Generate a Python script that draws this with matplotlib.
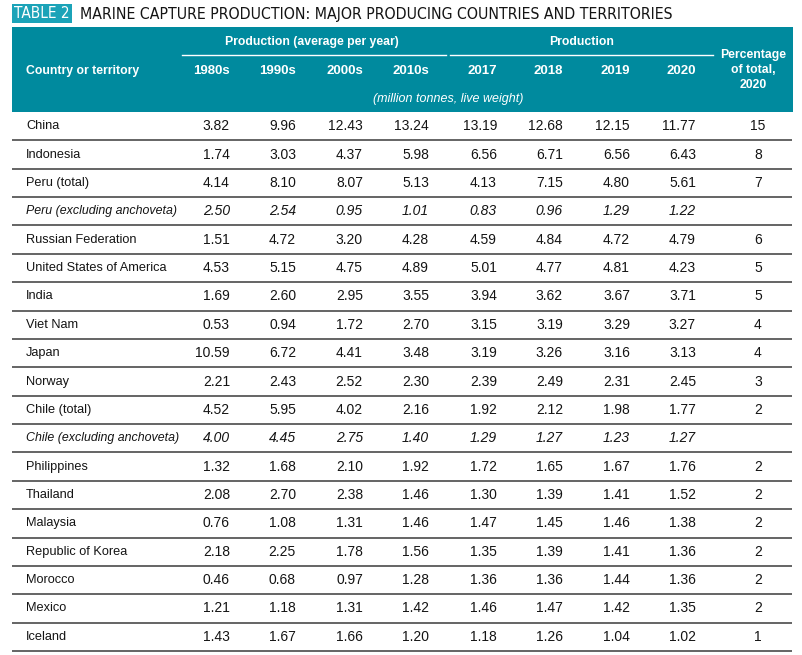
import matplotlib
matplotlib.use('Agg')
import matplotlib.pyplot as plt
from matplotlib.patches import Rectangle
from matplotlib import font_manager
from matplotlib.font_manager import FontProperties

countries = [
    'China', 'Indonesia', 'Peru (total)', 'Peru (excluding anchoveta)',
    'Russian Federation', 'United States of America', 'India', 'Viet Nam',
    'Japan', 'Norway', 'Chile (total)', 'Chile (excluding anchoveta)',
    'Philippines', 'Thailand', 'Malaysia', 'Republic of Korea', 'Morocco',
    'Mexico', 'Iceland',
]
italic_rows = ['Peru (excluding anchoveta)', 'Chile (excluding anchoveta)']

col_labels = ['1980s', '1990s', '2000s', '2010s', '2017', '2018', '2019', '2020']

v1980s = [3.82, 1.74, 4.14, 2.50, 1.51, 4.53, 1.69, 0.53, 10.59, 2.21, 4.52, 4.00,
          1.32, 2.08, 0.76, 2.18, 0.46, 1.21, 1.43]
v1990s = [9.96, 3.03, 8.10, 2.54, 4.72, 5.15, 2.60, 0.94, 6.72, 2.43, 5.95, 4.45,
          1.68, 2.70, 1.08, 2.25, 0.68, 1.18, 1.67]
v2000s = [12.43, 4.37, 8.07, 0.95, 3.20, 4.75, 2.95, 1.72, 4.41, 2.52, 4.02, 2.75,
          2.10, 2.38, 1.31, 1.78, 0.97, 1.31, 1.66]
v2010s = [13.24, 5.98, 5.13, 1.01, 4.28, 4.89, 3.55, 2.70, 3.48, 2.30, 2.16, 1.40,
          1.92, 1.46, 1.46, 1.56, 1.28, 1.42, 1.20]
v2017 = [13.19, 6.56, 4.13, 0.83, 4.59, 5.01, 3.94, 3.15, 3.19, 2.39, 1.92, 1.29,
         1.72, 1.30, 1.47, 1.35, 1.36, 1.46, 1.18]
v2018 = [12.68, 6.71, 7.15, 0.96, 4.84, 4.77, 3.62, 3.19, 3.26, 2.49, 2.12, 1.27,
         1.65, 1.39, 1.45, 1.39, 1.36, 1.47, 1.26]
v2019 = [12.15, 6.56, 4.80, 1.29, 4.72, 4.81, 3.67, 3.29, 3.16, 2.31, 1.98, 1.23,
         1.67, 1.41, 1.46, 1.41, 1.44, 1.42, 1.04]
v2020 = [11.77, 6.43, 5.61, 1.22, 4.79, 4.23, 3.71, 3.27, 3.13, 2.45, 1.77, 1.27,
         1.76, 1.52, 1.38, 1.36, 1.36, 1.35, 1.02]
pct_2020 = [15, 8, 7, None, 6, 5, 5, 4, 4, 3, 2, None, 2, 2, 2, 2, 2, 2, 1]

columns = [v1980s, v1990s, v2000s, v2010s, v2017, v2018, v2019, v2020]

TEAL = '#008a9e'
TEAL_LIGHT = '#1ba3b8'
INK = '#141414'

# look for any condensed / narrow face for the title
cond = None
for f in font_manager.fontManager.ttflist:
    fn = f.fname.lower()
    if ('condensed' in fn or 'narrow' in fn) and 'bold' not in fn \
            and 'oblique' not in fn and 'italic' not in fn:
        cond = f.fname
        break
title_fp = FontProperties(fname=cond) if cond else FontProperties(family='Liberation Sans')
body = 'Liberation Sans'

W, H = 803, 655
fig = plt.figure(figsize=(W / 100, H / 100), dpi=100)
ax = fig.add_axes([0, 0, 1, 1])
ax.set_xlim(0, W)
ax.set_ylim(H, 0)
ax.axis('off')

left, right = 12, 793
head_top, head_bot = 27, 112
table_bot = 651
row_h = (table_bot - head_bot) / len(countries)
col_right = [230, 296, 363, 429, 497, 563, 630, 696]
pct_x = 758

# title
ax.add_patch(Rectangle((12, 4), 60, 19, color=TEAL_LIGHT, lw=0))
t_tag = ax.text(42, 14, 'TABLE 2', color='white', fontproperties=title_fp,
                fontsize=14, ha='center', va='center')
t_main = ax.text(80, 14, 'MARINE CAPTURE PRODUCTION: MAJOR PRODUCING COUNTRIES AND TERRITORIES',
                 color=INK, fontproperties=title_fp, fontsize=14, ha='left', va='center')

# fit title widths to the reference
fig.canvas.draw()
r = fig.canvas.get_renderer()
for t, target in [(t_tag, 56), (t_main, 598)]:
    w = t.get_window_extent(r).width
    t.set_fontsize(14 * target / w)

# header block
ax.add_patch(Rectangle((left, head_top), right - left, head_bot - head_top,
                       color=TEAL, lw=0))
hkw = dict(color='white', family=body, weight='bold', va='center')
ax.text(312, 42, 'Production (average per year)', ha='center', fontsize=8.8, **hkw)
ax.text(582, 42, 'Production', ha='center', fontsize=8.8, **hkw)
ax.plot([182, 446], [55, 55], color='white', lw=1)
ax.plot([450, 713], [55, 55], color='white', lw=1)
ax.text(26, 71, 'Country or territory', ha='left', fontsize=8.8, **hkw)
for lab, xr in zip(col_labels, col_right):
    ax.text(xr, 71, lab, ha='right', fontsize=9.5, **hkw)
ax.text(753, 70, 'Percentage\nof total,\n2020', ha='center', linespacing=1.3,
        fontsize=8.8, **hkw)
ax.text(448, 99, '(million tonnes, live weight)', color='white', fontsize=9,
        family=body, style='italic', ha='center', va='center')

# body rows
for i, name in enumerate(countries):
    yc = head_bot + (i + 0.5) * row_h
    st = 'italic' if name in italic_rows else 'normal'
    tkw = dict(color=INK, family=body, style=st, va='center')
    ax.text(26, yc, name, ha='left', fontsize=8.9 if st == 'italic' else 9.2, **tkw)
    for col, xr in zip(columns, col_right):
        ax.text(xr, yc, f'{col[i]:.2f}', ha='right', fontsize=10, **tkw)
    if pct_2020[i] is not None:
        ax.text(pct_x, yc, str(pct_2020[i]), ha='center', fontsize=10, **tkw)
    yb = head_bot + (i + 1) * row_h
    ax.plot([left, right - 1], [yb, yb], color='#3a3a3a', lw=1.1,
            solid_capstyle='butt')

fig.savefig('out.png', dpi=100)
